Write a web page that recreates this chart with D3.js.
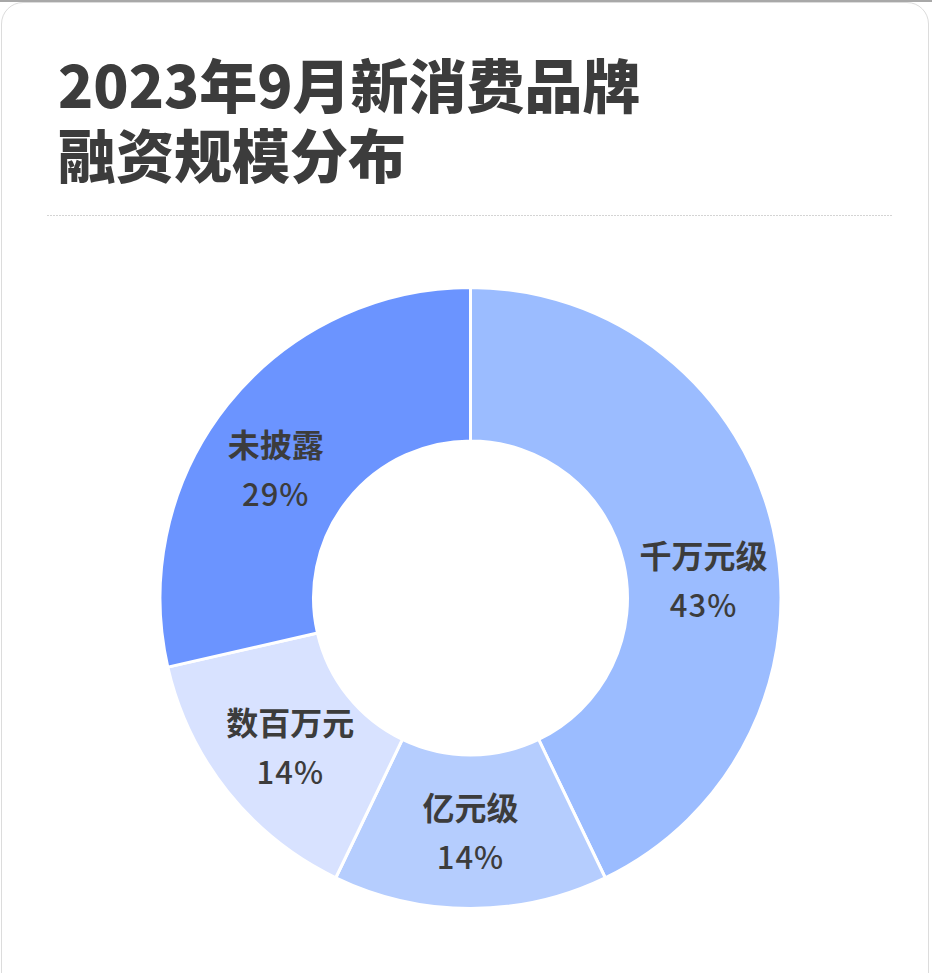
<!DOCTYPE html>
<html lang="zh">
<head>
    <meta charset="UTF-8">
    <title>donut</title>
    <script src="https://cdn.jsdelivr.net/npm/d3@7/dist/d3.min.js"></script>
    <style>
        html, body {
            margin: 0;
            padding: 0;
            background: #fff;
        }
        body {
            width: 932px;
            height: 973px;
            overflow: hidden;
            border-top: 2px solid #a8a8a8;
            box-sizing: border-box;
        }
        #card {
            position: absolute;
            left: 1px;
            top: 2px;
            width: 928px;
            height: 1000px;
            border: 1px solid #dcdcdc;
            border-radius: 22px;
            box-sizing: border-box;
        }
        svg {
            position: absolute;
            left: 0;
            top: 0;
        }
        #title {
            position: absolute;
            left: 58px;
            top: 48px;
            margin: 0;
            font-family: "Noto Sans CJK SC", sans-serif;
            font-weight: 900;
            font-size: 58px;
            line-height: 70px;
            color: #3c3c3c;
            white-space: nowrap;
        }
        #title div {
            height: 70px;
        }
        .lbl-name {
            font-family: "Noto Sans CJK SC", sans-serif;
            font-weight: 700;
            font-size: 32px;
            fill: #3c3c3c;
        }
        .lbl-pct {
            font-family: "Noto Sans CJK SC", sans-serif;
            font-weight: 500;
            font-size: 31px;
            fill: #3c3c3c;
            letter-spacing: 1px;
        }
    </style>
</head>
<body>
<div id="card"></div>
<svg class="chart"></svg>
<div id="title"></div>
<script>
    var width = 932;
    var height = 973;

    // title lines
    var titleLines = ['2023年9月新消费品牌', '融资规模分布'];

    // slices, clockwise from 12 o'clock
    var categories = ['千万元级', '亿元级', '数百万元', '未披露'];
    var values = [3, 1, 1, 2];
    var colors = ['#9bbcff', '#b5cdfe', '#d8e2ff', '#6b94ff'];

    // small angle nudges (degrees) for label placement
    var labelNudge = [8.5, 0, -1, -5];

    // title
    d3.select('#title')
        .selectAll('div')
        .data(titleLines)
        .enter()
        .append('div')
        .text(function (d) { return d; });

    var svg = d3.select('.chart')
        .attr('width', width)
        .attr('height', height);

    // dotted divider
    svg.append('line')
        .attr('x1', 47)
        .attr('x2', 893)
        .attr('y1', 215.5)
        .attr('y2', 215.5)
        .attr('stroke', '#d4d4d4')
        .attr('stroke-width', 1)
        .attr('stroke-dasharray', '2,1');

    var cx = 470.5, cy = 598;
    var outerR = 310.5, innerR = 157;

    var data = categories.map(function (c, i) {
        return {name: c, value: values[i], color: colors[i], nudge: labelNudge[i]};
    });
    var total = d3.sum(values);

    var pie = d3.pie()
        .value(function (d) { return d.value; })
        .sort(null);

    var arc = d3.arc()
        .innerRadius(innerR)
        .outerRadius(outerR);

    var g = svg.append('g')
        .attr('transform', 'translate(' + cx + ',' + cy + ')');

    var arcs = pie(data);

    g.selectAll('path')
        .data(arcs)
        .enter()
        .append('path')
        .attr('d', arc)
        .attr('fill', function (d) { return d.data.color; })
        .attr('stroke', '#fff')
        .attr('stroke-width', 3)
        .attr('stroke-linejoin', 'round');

    var labelR = (innerR + outerR) / 2;
    var labels = g.selectAll('.lbl')
        .data(arcs)
        .enter()
        .append('g')
        .attr('class', 'lbl')
        .attr('transform', function (d) {
            var a = (d.startAngle + d.endAngle) / 2 + d.data.nudge * Math.PI / 180;
            var x = labelR * Math.sin(a);
            var y = -labelR * Math.cos(a);
            return 'translate(' + x + ',' + y + ')';
        });

    labels.append('text')
        .attr('class', 'lbl-name')
        .attr('text-anchor', 'middle')
        .attr('y', -12)
        .text(function (d) { return d.data.name; });

    labels.append('text')
        .attr('class', 'lbl-pct')
        .attr('text-anchor', 'middle')
        .attr('y', 37)
        .text(function (d) { return Math.round(d.data.value / total * 100) + '%'; });
</script>
</body>
</html>
